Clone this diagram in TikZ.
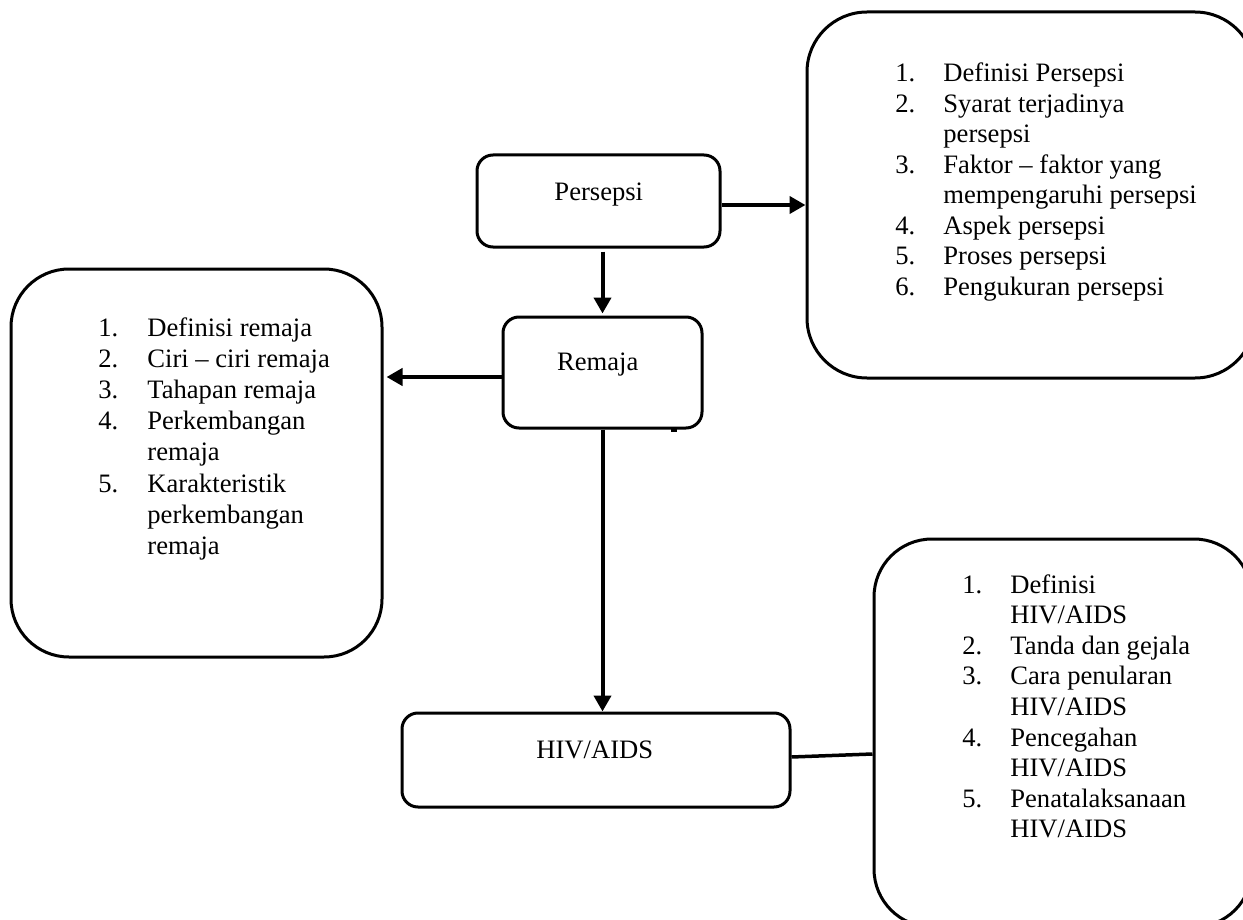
\documentclass[tikz,border=0pt]{standalone}
\usepackage{fontspec}
\setmainfont{Liberation Serif}
\usetikzlibrary{arrows.meta}
\tikzset{
  box/.style={draw, line width=1.5pt, rounded corners=8pt, inner sep=0pt},
  bigbox/.style={draw, line width=1.5pt, rounded corners=29pt, inner sep=0pt},
  lbl/.style={inner sep=0pt, anchor=base, font=\fontsize{13.3}{15.25}\selectfont},
  lst/.style={inner sep=0pt, anchor=base west, align=left},
  conn/.style={line width=2pt},
  arr/.style={conn, -{Triangle[length=8pt,width=8.5pt]}},
}
\begin{document}
\begin{tikzpicture}[x=0.5pt, y=-0.5pt]
\useasboundingbox (0,0) rectangle (1243,920);
\clip (0,0) rectangle (1243,920);
% boxes
\node[box, minimum width=121.5pt, minimum height=46pt] (persepsi) at (598.5,201) {};
\node[box, minimum width=99.5pt, minimum height=55.5pt] (remaja) at (602.5,372.5) {};
\node[box, minimum width=194pt, minimum height=47pt] (hiv) at (596,760) {};
\node[bigbox, minimum width=185.5pt, minimum height=194pt] (lbox) at (196.5,463) {};
\node[bigbox, rounded corners=30pt, minimum width=224pt, minimum height=183pt] (tr) at (1031,195) {};
\node[bigbox, minimum width=189pt, minimum height=194pt] (br) at (1063,733) {};
% labels
\node[lbl] (persepsiT) at (598.8,200) {Persepsi};
\node[lbl] (remajaT) at (597.8,370.7) {Remaja};
\node[lbl] (hivT) at (594.8,758) {HIV/AIDS};
% lists
\node[lst, font=\fontsize{13.3}{15.6}\selectfont] (lboxT) at (98,336) {%
\begin{tabular}[t]{@{}p{24.5pt}@{}l@{}}
1. & Definisi remaja\\
2. & Ciri -- ciri remaja\\
3. & Tahapan remaja\\
4. & Perkembangan\\
   & remaja\\
5. & Karakteristik\\
   & perkembangan\\
   & remaja
\end{tabular}};
\node[lst, font=\fontsize{13.3}{15.25}\selectfont] (trT) at (895,82) {%
\begin{tabular}[t]{@{}p{24pt}@{}l@{}}
1. & Definisi Persepsi\\
2. & Syarat terjadinya\\
   & persepsi\\
3. & Faktor -- faktor yang\\
   & mempengaruhi persepsi\\
4. & Aspek persepsi\\
5. & Proses persepsi\\
6. & Pengukuran persepsi
\end{tabular}};
\node[lst, font=\fontsize{13.3}{15.3}\selectfont] (brT) at (962,593) {%
\begin{tabular}[t]{@{}p{24pt}@{}l@{}}
1. & Definisi\\
   & HIV/AIDS\\
2. & Tanda dan gejala\\
3. & Cara penularan\\
   & HIV/AIDS\\
4. & Pencegahan\\
   & HIV/AIDS\\
5. & Penatalaksanaan\\
   & HIV/AIDS
\end{tabular}};
% connectors
\draw[arr] ([yshift=-2pt]persepsi.east) -- ([yshift=-2pt]persepsi.east -| tr.west);
\draw[arr] ([yshift=-1.5pt]persepsi.south -| remaja.north) -- ([yshift=1pt]remaja.north);
\draw[arr] ([yshift=-2.25pt]remaja.west) -- ([xshift=1.5pt,yshift=-2.25pt]remaja.west -| lbox.east);
\draw[arr] (remaja.south) -- (remaja.south |- hiv.north);
\draw[conn, line width=1.75pt] ([yshift=1.5pt]hiv.east) -- ([yshift=3pt]hiv.east -| br.west);
% stray mark
\fill (671,429) rectangle (677,432);
\end{tikzpicture}
\end{document}
